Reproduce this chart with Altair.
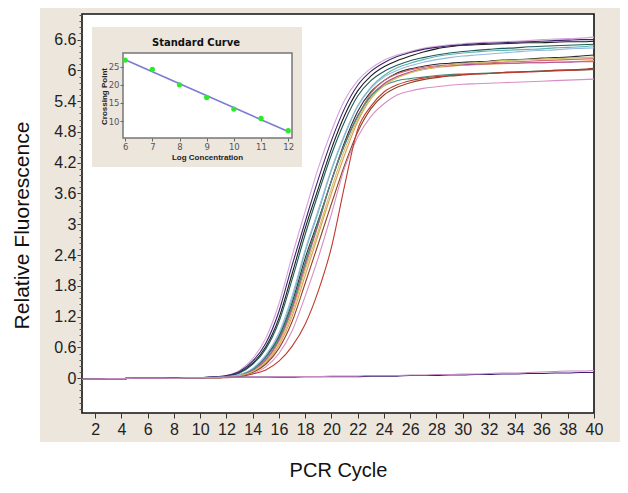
import altair as alt
import pandas as pd

# ---------------- data ----------------
cycles = list(range(1, 41))
early = [-0.02, -0.02, -0.01, -0.01, 0.0, 0.0, 0.0, 0.0, 0.01, 0.01]  # cycles 1-10 (shared baseline)

amp_names = ["s01", "s02", "s03", "s04", "s05", "s06", "s07", "s08",
             "s09", "s10", "s11", "s12", "s13", "s14", "s15"]
amp_colors = ["#d9a3d9", "#1a1a1a", "#1e5b5b", "#3b2470", "#5fb3ad", "#2b2b2b",
              "#d86a6a", "#e39a4f", "#b2509e", "#3d8c7c", "#8b4424", "#d68fc6",
              "#c0392f", "#94b9de", "#c9c266"]

# values for cycles 11..40
s01 = [0.02, 0.05, 0.15, 0.38, 0.78, 1.45, 2.38, 3.25, 4.1, 4.82, 5.42, 5.8, 6.04, 6.2, 6.3,
       6.37, 6.43, 6.47, 6.5, 6.52, 6.54, 6.55, 6.56, 6.57, 6.58, 6.6, 6.61, 6.62, 6.63, 6.65]
s02 = [0.02, 0.04, 0.11, 0.29, 0.61, 1.17, 2.03, 2.92, 3.70, 4.47, 5.12, 5.60, 5.89, 6.07, 6.19,
       6.28, 6.36, 6.42, 6.46, 6.49, 6.5, 6.51, 6.52, 6.53, 6.54, 6.54, 6.55, 6.56, 6.56, 6.57]
s03 = [0.02, 0.03, 0.10, 0.27, 0.57, 1.10, 1.92, 2.80, 3.60, 4.36, 5.00, 5.50, 5.80, 5.98, 6.10,
       6.19, 6.25, 6.30, 6.34, 6.37, 6.39, 6.41, 6.43, 6.44, 6.46, 6.47, 6.48, 6.49, 6.50, 6.51]
s04 = [0.02, 0.05, 0.13, 0.33, 0.68, 1.30, 2.20, 3.05, 3.88, 4.63, 5.26, 5.71, 5.98, 6.15, 6.27,
       6.35, 6.41, 6.45, 6.48, 6.5, 6.52, 6.53, 6.54, 6.55, 6.56, 6.57, 6.58, 6.59, 6.6, 6.6]
s05 = [0.01, 0.02, 0.06, 0.18, 0.43, 0.84, 1.54, 2.46, 3.24, 4.05, 4.73, 5.31, 5.67, 5.90, 6.05,
       6.14, 6.21, 6.27, 6.31, 6.34, 6.36, 6.38, 6.39, 6.40, 6.41, 6.42, 6.44, 6.45, 6.46, 6.48]
s06 = [0.01, 0.02, 0.06, 0.17, 0.41, 0.80, 1.46, 2.34, 3.08, 3.85, 4.6, 5.2, 5.58, 5.8, 5.95,
       6.03, 6.08, 6.12, 6.14, 6.16, 6.17, 6.18, 6.2, 6.21, 6.22, 6.24, 6.25, 6.26, 6.28, 6.3]
s07 = [0.01, 0.02, 0.05, 0.14, 0.34, 0.72, 1.33, 2.17, 3.0, 3.85, 4.55, 5.1, 5.55, 5.8, 5.93,
       6.01, 6.06, 6.09, 6.11, 6.13, 6.14, 6.15, 6.16, 6.17, 6.18, 6.19, 6.2, 6.21, 6.22, 6.23]
s08 = [0.01, 0.02, 0.04, 0.12, 0.30, 0.64, 1.20, 2.0, 2.80, 3.6, 4.35, 5.0, 5.45, 5.72, 5.87,
       5.96, 6.02, 6.06, 6.08, 6.1, 6.11, 6.12, 6.13, 6.14, 6.15, 6.15, 6.16, 6.17, 6.18, 6.19]
s09 = [0.01, 0.03, 0.05, 0.15, 0.36, 0.75, 1.38, 2.24, 3.02, 3.85, 4.55, 5.12, 5.5, 5.74, 5.88,
       5.97, 6.03, 6.07, 6.09, 6.11, 6.12, 6.13, 6.14, 6.14, 6.15, 6.15, 6.16, 6.16, 6.17, 6.17]
s10 = [0.01, 0.03, 0.06, 0.17, 0.40, 0.78, 1.42, 2.25, 3.05, 3.85, 4.55, 5.1, 5.5, 5.7, 5.8,
       5.84, 5.87, 5.9, 5.92, 5.93, 5.94, 5.95, 5.96, 5.97, 5.98, 5.99, 6.0, 6.0, 6.01, 6.02]
s11 = [0.01, 0.02, 0.04, 0.11, 0.27, 0.58, 1.1, 1.85, 2.62, 3.4, 4.15, 4.8, 5.25, 5.52, 5.67,
       5.76, 5.82, 5.86, 5.89, 5.91, 5.93, 5.94, 5.96, 5.97, 5.98, 5.99, 6.0, 6.01, 6.02, 6.04]
s12 = [0.01, 0.02, 0.03, 0.09, 0.22, 0.48, 0.92, 1.6, 2.35, 3.2, 4.1, 4.7, 5.1, 5.35, 5.52,
       5.6, 5.65, 5.68, 5.71, 5.73, 5.74, 5.75, 5.76, 5.77, 5.78, 5.79, 5.8, 5.81, 5.82, 5.83]
s13 = [0.01, 0.01, 0.03, 0.08, 0.16, 0.33, 0.62, 1.05, 1.7, 2.55, 3.75, 4.85, 5.3, 5.58, 5.72,
       5.8, 5.85, 5.88, 5.9, 5.92, 5.93, 5.94, 5.95, 5.96, 5.97, 5.98, 5.99, 6.0, 6.01, 6.02]
s14 = [0.02, 0.03, 0.07, 0.19, 0.45, 0.88, 1.6, 2.5, 3.28, 4.08, 4.75, 5.3, 5.65, 5.87, 6.0,
       6.09, 6.16, 6.21, 6.25, 6.28, 6.3, 6.32, 6.34, 6.36, 6.38, 6.39, 6.4, 6.42, 6.43, 6.44]
s15 = [0.01, 0.02, 0.05, 0.13, 0.32, 0.68, 1.27, 2.1, 2.88, 3.7, 4.45, 5.05, 5.45, 5.7, 5.85,
       5.95, 6.02, 6.06, 6.1, 6.13, 6.15, 6.17, 6.19, 6.2, 6.21, 6.22, 6.23, 6.24, 6.25, 6.26]
amp_rise = [s01, s02, s03, s04, s05, s06, s07, s08, s09, s10, s11, s12, s13, s14, s15]

# negative controls, cycles 1..40
nc_names = ["nc1", "nc2"]
nc_colors = ["#3c1f78", "#c58ac0"]
nc1 = [-0.02, -0.02, -0.01, -0.01, 0.0, 0.0, 0.0, 0.01, 0.01, 0.01, 0.02, 0.02, 0.02, 0.02,
       0.02, 0.02, 0.02, 0.03, 0.03, 0.03, 0.03, 0.03, 0.04, 0.04, 0.04, 0.05, 0.05, 0.05,
       0.06, 0.06, 0.07, 0.07, 0.08, 0.08, 0.09, 0.09, 0.10, 0.10, 0.11, 0.11]
nc2 = [-0.02, -0.02, -0.01, -0.01, 0.0, 0.0, 0.0, 0.0, 0.01, 0.01, 0.01, 0.02, 0.02, 0.02,
       0.02, 0.03, 0.03, 0.03, 0.03, 0.04, 0.04, 0.04, 0.05, 0.05, 0.05, 0.06, 0.06, 0.07,
       0.07, 0.08, 0.08, 0.09, 0.10, 0.10, 0.11, 0.12, 0.13, 0.14, 0.14, 0.15]

# standard curve inset
log_conc = [6, 7, 8, 9, 10, 11, 12]
crossing_point = [26.85, 24.3, 20.0, 16.5, 13.3, 10.7, 7.3]

x_ticks = list(range(2, 41, 2))
y_ticks = [0, 0.6, 1.2, 1.8, 2.4, 3, 3.6, 4.2, 4.8, 5.4, 6, 6.6]
inset_x_ticks = [6, 7, 8, 9, 10, 11, 12]
inset_y_ticks = [10, 15, 20, 25]
inset_title = "Standard Curve"

# ---------------- build tables ----------------
rows = []
for name, rise in zip(amp_names, amp_rise):
    vals = early + rise
    for c, v in zip(cycles, vals):
        rows.append({"series": name, "cycle": c, "rf": v})
for name, vals in zip(nc_names, [nc1, nc2]):
    for c, v in zip(cycles, vals):
        rows.append({"series": name, "cycle": c, "rf": v})
df = pd.DataFrame(rows)
std = pd.DataFrame({"log_conc": log_conc, "cp": crossing_point})
one = pd.DataFrame({"k": [0]})

W, H = 512, 399
BEIGE = "#ece6dd"
FONT = "Liberation Sans"

# ---------------- layers ----------------
bg = alt.Chart(one).mark_rect(color=BEIGE).encode(
    x=alt.value(-42), x2=alt.value(W + 26), y=alt.value(-6), y2=alt.value(H + 29))

plot_bg = alt.Chart(one).mark_rect(fill="white", stroke="#111111", strokeWidth=1.6).encode(
    x=alt.value(0), x2=alt.value(W), y=alt.value(0), y2=alt.value(H))

xscale = alt.Scale(domain=[1, 40], nice=False, zero=False)
yscale = alt.Scale(domain=[-0.68, 7.1], nice=False, zero=False)

curves = alt.Chart(df).mark_line(strokeWidth=1.1, interpolate="monotone").encode(
    x=alt.X("cycle:Q", scale=xscale,
            axis=alt.Axis(orient="bottom", values=x_ticks, title="PCR Cycle", grid=False,
                          domain=False, tickSize=5, tickColor="#333", labelFont=FONT,
                          labelFontSize=16, labelColor="#222", labelPadding=3,
                          labelOverlap=False, labelFlush=False, labelBound=False,
                          titleFont=FONT, titleFontSize=20, titleFontWeight="normal",
                          titleColor="#111", titleX=256, titleY=57, titleBaseline="middle",
                          titleAlign="center", zindex=1)),
    y=alt.Y("rf:Q", scale=yscale,
            axis=alt.Axis(orient="left", values=y_ticks, format="~g", title="Relative Fluorescence",
                          grid=False, domain=False, tickSize=5, tickColor="#333", labelFont=FONT,
                          labelFontSize=16, labelColor="#222", labelPadding=1,
                          labelOverlap=False, labelFlush=False, labelBound=False,
                          titleFont=FONT, titleFontSize=21, titleFontWeight="normal",
                          titleColor="#111", titleX=-60, titleY=211, titleAngle=270,
                          titleBaseline="middle", titleAlign="center", zindex=1)),
    color=alt.Color("series:N", scale=alt.Scale(domain=amp_names + nc_names,
                                                range=amp_colors + nc_colors), legend=None),
)

minor_vals = [round(-0.6 + 0.12 * i, 2) for i in range(65)]
minor = alt.Chart(df).mark_point(opacity=0).encode(
    x=alt.X("cycle:Q", scale=xscale, axis=None),
    y=alt.Y("rf:Q", scale=yscale,
            axis=alt.Axis(orient="left", values=minor_vals, labels=False, tickSize=3,
                          tickColor="#555", domain=False, grid=False, title=None, zindex=1)),
)

inset_bg = alt.Chart(one).mark_rect(color=BEIGE).encode(
    x=alt.value(10), x2=alt.value(220), y=alt.value(13), y2=alt.value(153))
inset_frame = alt.Chart(one).mark_rect(fill="white", stroke="#777777", strokeWidth=1.5).encode(
    x=alt.value(41), x2=alt.value(210), y=alt.value(39), y2=alt.value(124))

ix = alt.X("log_conc:Q", scale=alt.Scale(domain=[5.92, 12.14], range=[41, 210], nice=False, zero=False),
           axis=alt.Axis(orient="bottom", offset=-(H - 124), values=inset_x_ticks, grid=False,
                         domain=False, tickSize=3, tickColor="#666", labelFont="DejaVu Sans",
                         labelFontSize=8.5, labelColor="#555", labelPadding=1,
                         labelOverlap=False, labelFlush=False, labelBound=False,
                         title="Log Concentration", titleFont=FONT, titleFontSize=8,
                         titleFontWeight="bold", titleColor="#222", titleX=125, titleY=19,
                         titleBaseline="middle", titleAlign="center", zindex=1))
iy = alt.Y("cp:Q", scale=alt.Scale(domain=[5.3, 28.8], range=[124, 39], nice=False, zero=False),
           axis=alt.Axis(orient="left", offset=-41, values=inset_y_ticks, grid=False,
                         domain=False, tickSize=3, tickColor="#666", labelFont="DejaVu Sans",
                         labelFontSize=8.5, labelColor="#555", labelPadding=1,
                         labelOverlap=False, labelFlush=False, labelBound=False,
                         title="Crossing Point", titleFont=FONT, titleFontSize=8,
                         titleFontWeight="bold", titleColor="#222", titleX=-19, titleY=82,
                         titleAngle=270, titleBaseline="middle", titleAlign="center", zindex=1))

inset_line = alt.Chart(std).transform_regression("log_conc", "cp").mark_line(
    color="#7b7bd6", strokeWidth=1.6).encode(x=ix, y=iy)
inset_pts = alt.Chart(std).mark_circle(color="#2ee82e", size=28, opacity=1).encode(x=ix, y=iy)
inset = alt.layer(inset_line, inset_pts)

title_txt = alt.Chart(pd.DataFrame({"t": [inset_title]})).mark_text(
    font="DejaVu Sans", fontWeight="bold", fontSize=10, color="#111").encode(
    x=alt.value(114), y=alt.value(29), text="t:N")

chart = alt.layer(bg, plot_bg, curves, minor, inset_bg, inset_frame, inset, title_txt).resolve_scale(
    x="independent", y="independent"
).properties(
    width=W, height=H,
    padding={"left": 74, "top": 6, "right": 26, "bottom": 72},
    autosize=alt.AutoSizeParams(type="none"),
    background="white",
).configure_view(stroke=None)

chart.save("out.html", embed_options={"renderer": "svg", "actions": False})
